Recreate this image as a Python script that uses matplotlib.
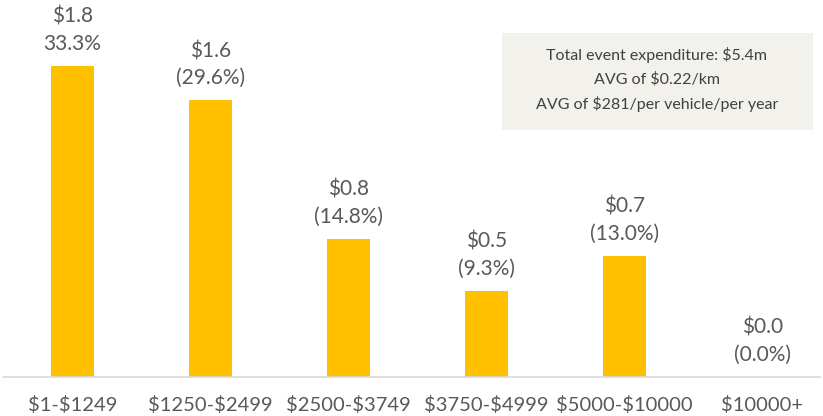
import matplotlib.pyplot as plt
from matplotlib.patches import Rectangle

categories = ['$1-$1249', '$1250-$2499', '$2500-$3749', '$3750-$4999', '$5000-$10000', '$10000+']
values = [1.8, 1.6, 0.8, 0.5, 0.7, 0.0]
value_labels = ['$1.8', '$1.6', '$0.8', '$0.5', '$0.7', '$0.0']
pct_labels = ['33.3%', '(29.6%)', '(14.8%)', '(9.3%)', '(13.0%)', '(0.0%)']
summary = ['Total event expenditure: $5.4m', 'AVG of $0.22/km', 'AVG of $281/per vehicle/per year']

plt.rcParams['font.family'] = ['Lato', 'DejaVu Sans']
plt.rcParams['text.parse_math'] = False
text_color = '#595959'

fig = plt.figure(figsize=(8.23, 4.16), dpi=100)
ax = fig.add_axes([3 / 823, 39 / 416, 817 / 823, 377 / 416])

x = list(range(len(categories)))
ax.bar(x, values, width=0.31, color='#FFC000')
ax.set_xlim(-0.504, 5.417)
ax.set_ylim(0, 2.18)

for xi, v, vl, pl in zip(x, values, value_labels, pct_labels):
    ax.annotate(pl, (xi, v), xytext=(0, 22), textcoords='offset pixels',
                ha='center', va='center', fontsize=15, color=text_color)
    ax.annotate(vl, (xi, v), xytext=(0, 49), textcoords='offset pixels',
                ha='center', va='center', fontsize=15, color=text_color)

for s in ['top', 'right', 'left']:
    ax.spines[s].set_visible(False)
ax.spines['bottom'].set_color('#D9D9D9')
ax.spines['bottom'].set_linewidth(1.2)
ax.set_yticks([])
ax.set_xticks(x)
ax.set_xticklabels(categories, fontsize=14.5, color=text_color)
ax.tick_params(axis='x', length=0, pad=14)

fig.patches.append(Rectangle((502 / 823, 1 - 130 / 416), 311 / 823, 97 / 416,
                             transform=fig.transFigure, facecolor='#F2F1EC', edgecolor='none', zorder=0))
for i, line in enumerate(summary):
    fig.text(657 / 823, 1 - (55 + 24.5 * i) / 416, line, ha='center', va='center',
             fontsize=11.5, color='#404040')

fig.savefig('out.png', dpi=100)
